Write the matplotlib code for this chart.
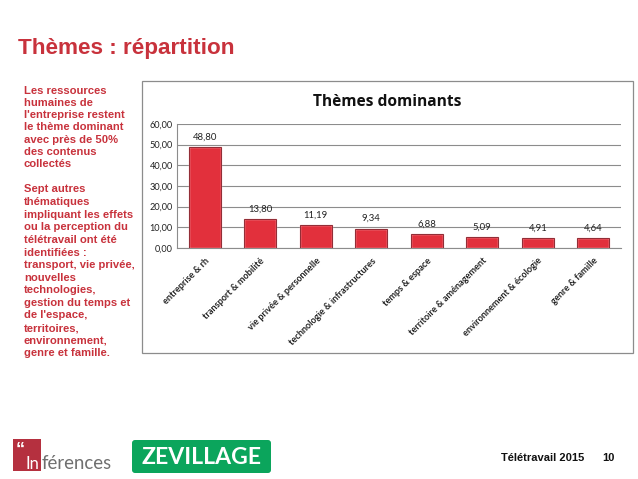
import matplotlib
matplotlib.use("Agg")
import matplotlib.pyplot as plt
from matplotlib.patches import Rectangle, FancyBboxPatch

categories = ["entreprise & rh", "transport & mobilité", "vie privée & personnelle",
              "technologie & infrastructures", "temps & espace", "territoire & aménagement",
              "environnement & écologie", "genre & famille"]
values = [48.80, 13.80, 11.19, 9.34, 6.88, 5.09, 4.91, 4.64]
yticks = [0, 10, 20, 30, 40, 50, 60]
para1 = ["Les ressources", "humaines de", "l'entreprise restent", "le thème dominant",
         "avec près de 50%", "des contenus", "collectés"]
para2 = ["Sept autres", "thématiques", "impliquant les effets", "ou la perception du",
         "télétravail ont été", "identifiées :", "transport, vie privée,", "nouvelles",
         "technologies,", "gestion du temps et", "de l'espace,", "territoires,",
         "environnement,", "genre et famille."]

W, H = 638, 479
RED = "#c8323c"
fr = lambda c: f"{c:.2f}".replace(".", ",")
fig = plt.figure(figsize=(W/100, H/100), dpi=100, facecolor="white")
bg = fig.add_axes([0, 0, 1, 1]); bg.set_xlim(0, W); bg.set_ylim(H, 0); bg.axis("off")
SANS = "Liberation Sans"; GEO = "Lato"

bg.text(18, 48, "Thèmes : répartition", color=RED, fontsize=16.2, fontweight="bold", family=SANS, va="center")
for i, s in enumerate(para1):
    bg.text(24, 90.5 + i*12.3, s, color=RED, fontsize=8.1, fontweight="bold", family=SANS, va="center")
for i, s in enumerate(para2):
    bg.text(24, 189.5 + i*12.6, s, color=RED, fontsize=8.1, fontweight="bold", family=SANS, va="center")
bg.add_patch(Rectangle((142, 81), 490.5, 271.5, fc="white", ec="#8c8c8c", lw=0.9))
bg.text(387, 102, "Thèmes dominants", fontsize=11.2, fontweight="bold", family="Open Sans", ha="center", va="center", color="#111111")

# logos
bg.add_patch(Rectangle((13, 439), 28, 32, fc="#b5303f", ec="none"))
bg.text(16, 450, "\u201c", color="white", fontsize=13, fontweight="bold", family=SANS, va="center")
bg.text(39.5, 464, "In", color="white", fontsize=12, family=GEO, va="center", ha="right")
bg.text(41.5, 463.5, "férences", color="#6f6f6f", fontsize=13.4, family=GEO, va="center", ha="left")
bg.add_patch(FancyBboxPatch((132, 440), 139, 33, boxstyle="round,pad=0,rounding_size=3", fc="#0ba55c", ec="none"))
bg.text(201.5, 457, "ZEVILLAGE", color="white", fontsize=16.6, fontweight="bold", family=GEO, ha="center", va="center")
bg.text(584, 458, "Télétravail 2015", color="#111111", fontsize=8, fontweight="bold", family=SANS, ha="right", va="center")
bg.text(608, 458, "10", color="#111111", fontsize=8, fontweight="bold", family=SANS, ha="center", va="center")

ax = fig.add_axes([177/W, 1-248/H, 444/W, 124/H], zorder=2)
ax.patch.set_alpha(0)
x = list(range(len(values)))
ax.bar(x, values, width=0.58, color="#e2303c", edgecolor="#f0b4b8", linewidth=1.0, zorder=3)
ax.bar(x, values, width=0.58, fill=False, edgecolor="#8f2a33", linewidth=0.7, zorder=3.1)
ax.set_xlim(-0.5, 7.5); ax.set_ylim(0, 60)
ax.set_yticks(yticks, [fr(v) for v in yticks], fontsize=6.6, family=GEO, color="#222222")
ax.set_xticks(x, categories, rotation=45, ha="right", rotation_mode="anchor", fontsize=6.6,
              family=GEO, fontweight="bold", color="#222222")
ax.tick_params(axis="both", length=0, pad=3)
ax.tick_params(axis="x", pad=6)
ax.yaxis.grid(True, color="#8c8c8c", lw=0.8, zorder=1); ax.set_axisbelow(True)
for s in ("top", "right"): ax.spines[s].set_visible(False)
for s in ("left", "bottom"): ax.spines[s].set_color("#8c8c8c"); ax.spines[s].set_linewidth(0.8)
for xi, v in zip(x, values):
    ax.annotate(fr(v), (xi, v), xytext=(0, 4), textcoords="offset points", ha="center", va="bottom",
                fontsize=6.8, family=GEO, color="#222222", zorder=4)
fig.savefig("out.png", dpi=100)
